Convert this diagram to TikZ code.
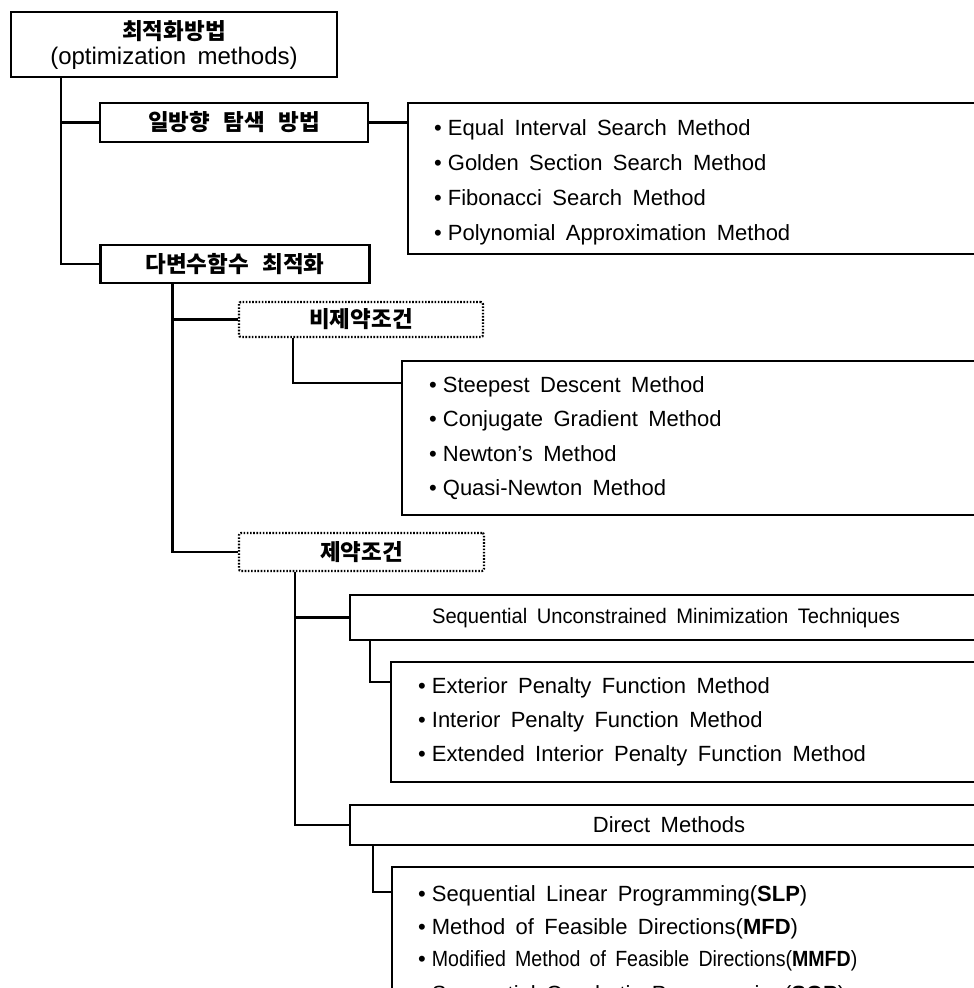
\documentclass[tikz,border=0pt]{standalone}
\usepackage{fontspec}
\usepackage{graphicx}
\setmainfont{Liberation Sans}[WordSpace=1.7]
\newfontfamily\kr{Noto Sans CJK KR}[WordSpace=2.6]
\begin{document}
\begin{tikzpicture}[x=1pt,y=-1pt,
  hbox/.style={draw, line width=2.2pt, inner sep=0pt},
  dbox/.style={draw, line width=2.2pt, inner sep=0pt, dash pattern=on 1.6pt off 1.6pt, rounded corners=2pt},
  lbox/.style={draw, line width=1.6pt, inner sep=0pt, anchor=north west},
  conn/.style={draw, line width=2.4pt},
  item/.style={anchor=west, inner sep=0pt, text height=16pt, text depth=0pt, font=\fontsize{22}{26}\selectfont},
  krt/.style={font=\kr\bfseries\fontsize{22.5}{25}\selectfont}]
\useasboundingbox (0,0) rectangle (974,988);
\clip (0,0) rectangle (974,988);
\fill[white] (0,0) rectangle (974,988);

% top box
\node[hbox, minimum width=326pt, minimum height=65pt, align=center,
      font=\fontsize{24}{25}\selectfont] (top) at (174,44.5)
      {{\kr\bfseries\fontsize{22.5}{25}\selectfont 최적화방법}\\(optimization methods)};

% level 1
\node[hbox, minimum width=268pt, minimum height=39pt, krt] (b1) at (234,122.5) {일방향 탐색 방법};
\node[hbox, minimum width=269pt, minimum height=38pt, krt] (b2) at (235,264) {다변수함수 최적화};

% list 1
\node[lbox, minimum width=620pt, minimum height=151pt] (l1) at (407,102) {};
\node[item] (l1a) at (434,127) {•\hspace{6pt}Equal Interval Search Method};
\node[item] (l1b) at (434,162) {•\hspace{6pt}Golden Section Search Method};
\node[item] (l1c) at (434,197) {•\hspace{6pt}Fibonacci Search Method};
\node[item] (l1d) at (434,232) {•\hspace{6pt}Polynomial Approximation Method};

% dotted boxes
\node[dbox, minimum width=244pt, minimum height=35pt, krt] (u) at (361,319.5) {비제약조건};
\node[dbox, minimum width=245pt, minimum height=38pt, krt] (c) at (361.5,552) {제약조건};

% list 2
\node[lbox, minimum width=620pt, minimum height=154pt] (l2) at (401,360) {};
\node[item] (l2a) at (429,384) {•\hspace{6pt}Steepest Descent Method};
\node[item] (l2b) at (429,418) {•\hspace{6pt}Conjugate Gradient Method};
\node[item] (l2c) at (429,453) {•\hspace{6pt}Newton's Method};
\node[item] (l2d) at (429,487) {•\hspace{6pt}Quasi-Newton Method};

% SUMT
\node[hbox, anchor=north west, minimum width=660pt, minimum height=45pt] (s) at (349,594) {};
\node[inner sep=0pt, text height=16pt, text depth=0pt, font=\fontsize{21}{25}\selectfont] (st) at (666,615)
  {\scalebox{0.96}[1]{Sequential Unconstrained Minimization Techniques}};

\node[lbox, minimum width=620pt, minimum height=120pt] (l3) at (390,661) {};
\node[item] (l3a) at (418,685) {•\hspace{6pt}Exterior Penalty Function Method};
\node[item] (l3b) at (418,719) {•\hspace{6pt}Interior Penalty Function Method};
\node[item] (l3c) at (418,753) {•\hspace{6pt}Extended Interior Penalty Function Method};

% Direct
\node[hbox, anchor=north west, minimum width=660pt, minimum height=40pt] (d) at (349,804) {};
\node[inner sep=0pt, text height=16pt, text depth=0pt, font=\fontsize{22}{26}\selectfont] (dt) at (669,824) {Direct Methods};

\node[lbox, minimum width=620pt, minimum height=160pt] (l4) at (391,866) {};
\node[item] (l4a) at (418,893) {•\hspace{6pt}Sequential Linear Programming(\textbf{SLP})};
\node[item] (l4b) at (418,926) {•\hspace{6pt}Method of Feasible Directions(\textbf{MFD})};
\node[item] (l4c) at (418,958) {•\hspace{6pt}\scalebox{0.89}[1]{Modified Method of Feasible Directions(\textbf{MMFD})}};
\node[item] (l4d) at (418,993) {•\hspace{6pt}Sequential Quadratic Programming(\textbf{SQP})};

% connectors
\draw[conn] ([xshift=51pt]top.south west) |- (b1.west);
\draw[conn] ([xshift=51pt]top.south west) |- (b2.west);
\draw[conn] (b1.east) -- (b1.east -| l1.west);
\draw[conn] ([xshift=73pt]b2.south west) |- (u.west);
\draw[conn] ([xshift=73pt]b2.south west) |- (c.west);
\draw[conn] ([xshift=55pt]u.south west) |- ([yshift=-23pt]l2.north west);
\draw[conn] ([xshift=57pt]c.south west) |- (s.west);
\draw[conn] ([xshift=57pt]c.south west) |- (d.west);
\draw[conn] ([xshift=21pt]s.south west) |- ([yshift=-21pt]l3.north west);
\draw[conn] ([xshift=24pt]d.south west) |- ([yshift=-26pt]l4.north west);
\end{tikzpicture}
\end{document}
